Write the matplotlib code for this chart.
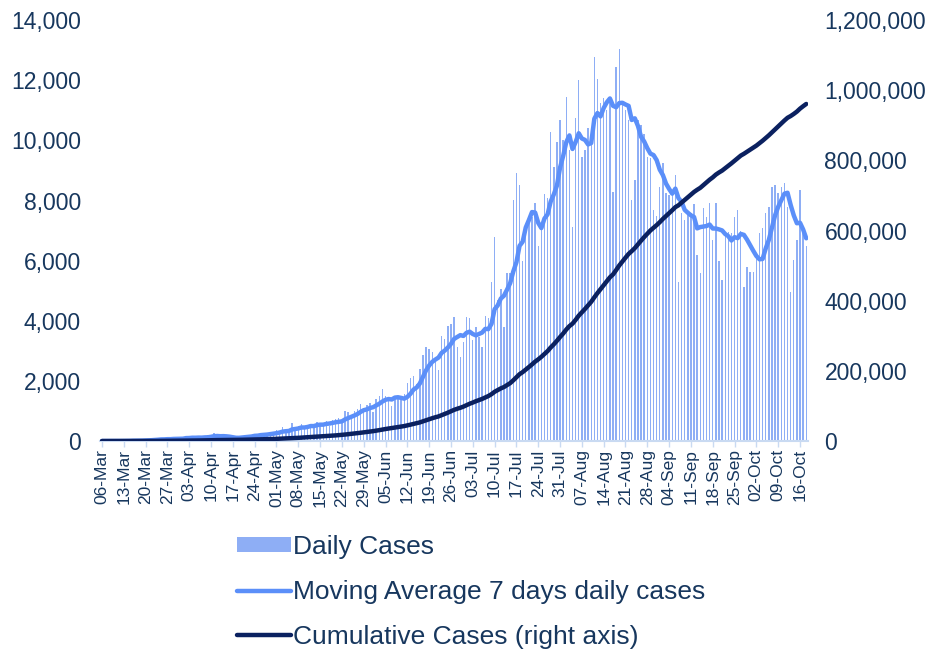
import matplotlib
matplotlib.use("Agg")
import matplotlib.pyplot as plt
import numpy as np
import pandas as pd
from matplotlib.ticker import FuncFormatter

plt.rcParams["font.family"] = ["Liberation Sans", "DejaVu Sans"]

TEXT = "#17375E"
BAR = "#8EAEF5"
MA = "#5B8FF9"
CUM = "#0B2160"

START = "2020-03-06"

# Daily cases, one row per week (Friday to Thursday).
daily_cases = [
    1, 0, 0, 0, 6, 2, 0,
    7, 8, 10, 32, 11, 20, 10,
    35, 50, 40, 78, 71, 92, 21,
    79, 53, 94, 96, 108, 92, 160,
    98, 120, 90, 130, 100, 150, 190,
    200, 270, 130, 80, 120, 100, 110,
    80, 140, 120, 150, 200, 145, 215,
    240, 180, 250, 200, 270, 245, 300,
    380, 330, 470, 290, 330, 590, 420,
    490, 560, 470, 420, 540, 580, 640,
    600, 560, 650, 500, 700, 720, 750,
    700, 1008, 960, 800, 1000, 1080, 1230,
    1100, 1200, 1280, 980, 1400, 1500, 1740,
    1500, 1380, 1175, 1420, 1480, 1350, 1560,
    1918, 2100, 2161, 1900, 2400, 2860, 3115,
    3050, 2950, 2700, 2360, 3490, 3400, 3824,
    3900, 4109, 3136, 2800, 3300, 4133, 4080,
    3358, 3800, 3447, 3136, 4156, 4080, 5297,
    6772, 4688, 5043, 3800, 5575, 5600, 8013,
    8900, 8512, 6000, 7126, 7300, 7459, 7903,
    6500, 7300, 8222, 8100, 10285, 9121, 9952,
    10673, 10008, 11448, 9676, 7126, 10729, 12003,
    9453, 9676, 10400, 10000, 12779, 12058, 11228,
    11400, 11000, 11300, 8290, 12446, 13024, 11300,
    11006, 10673, 8013, 8678, 10673, 10500, 10200,
    9453, 9400, 7681, 7500, 8456, 9232, 8234,
    8200, 8300, 8845, 5297, 7600, 7348, 7570,
    7600, 7900, 6200, 5600, 7736, 7459, 7903,
    6683, 7903, 6000, 5353, 6900, 6950, 6904,
    7459, 7680, 6978, 5131, 5797, 5630, 5630,
    6240, 6904, 7071, 7570, 7792, 8456, 8512,
    8235, 8456, 8567, 7792, 4964, 6018, 6683,
    8345, 6904, 6500,
]

dates = pd.date_range(START, periods=len(daily_cases), freq="D")
tick_labels = [d.strftime("%d-%b") for d in dates[::7]]

df = pd.DataFrame({"daily": daily_cases}, index=dates)
df["ma7"] = df["daily"].rolling(7, min_periods=1).mean()
df["cum"] = df["daily"].cumsum()

x = np.arange(len(df))

fig = plt.figure(figsize=(9.33, 6.5), dpi=100)
ax = fig.add_axes([0.1076, 0.3215, 0.7582, 0.6475])
ax2 = ax.twinx()

bars = ax.bar(x, df["daily"], width=0.45, color=BAR, label="Daily Cases", zorder=1)
ma_line, = ax.plot(x, df["ma7"], color=MA, lw=3.2, solid_capstyle="round",
                   label="Moving Average 7 days daily cases", zorder=3)
cum_line, = ax2.plot(x, df["cum"], color=CUM, lw=3.2, solid_capstyle="round",
                     label="Cumulative Cases (right axis)", zorder=3)

ax.set_xlim(-0.5, len(df) - 0.5)
ax.set_ylim(0, 14000)
ax2.set_ylim(0, 1200000)
ax.set_yticks(np.arange(0, 14001, 2000))
ax2.set_yticks(np.arange(0, 1200001, 200000))

fmt = FuncFormatter(lambda v, _: f"{v:,.0f}")
ax.yaxis.set_major_formatter(fmt)
ax2.yaxis.set_major_formatter(fmt)

ax.set_xticks(x[::7])
ax.set_xticklabels(tick_labels, rotation=90, fontsize=12.5, color=TEXT)

for a in (ax, ax2):
    for s in a.spines.values():
        s.set_visible(False)
ax.spines["bottom"].set_visible(True)
ax.spines["bottom"].set_color("#C9DAF2")
ax.spines["bottom"].set_linewidth(1.5)

ax.tick_params(axis="x", length=4, width=1, color="#C9DAF2", pad=2)
ax.tick_params(axis="y", length=0, labelsize=16.5, labelcolor=TEXT, pad=14)
ax2.tick_params(axis="y", length=0, labelsize=16.5, labelcolor=TEXT, pad=12)

# draw the right-axis line above the bars
ax.set_zorder(ax2.get_zorder() - 1)
ax.patch.set_visible(False)

leg = fig.legend(
    [bars, ma_line, cum_line],
    ["Daily Cases", "Moving Average 7 days daily cases", "Cumulative Cases (right axis)"],
    loc="upper left",
    bbox_to_anchor=(0.2396, 0.197),
    frameon=False,
    fontsize=19,
    handlelength=2.05,
    handleheight=0.5,
    handletextpad=0.1,
    labelspacing=0.79,
    borderpad=0,
)
for t in leg.get_texts():
    t.set_color(TEXT)

fig.savefig("out.png", dpi=100)
